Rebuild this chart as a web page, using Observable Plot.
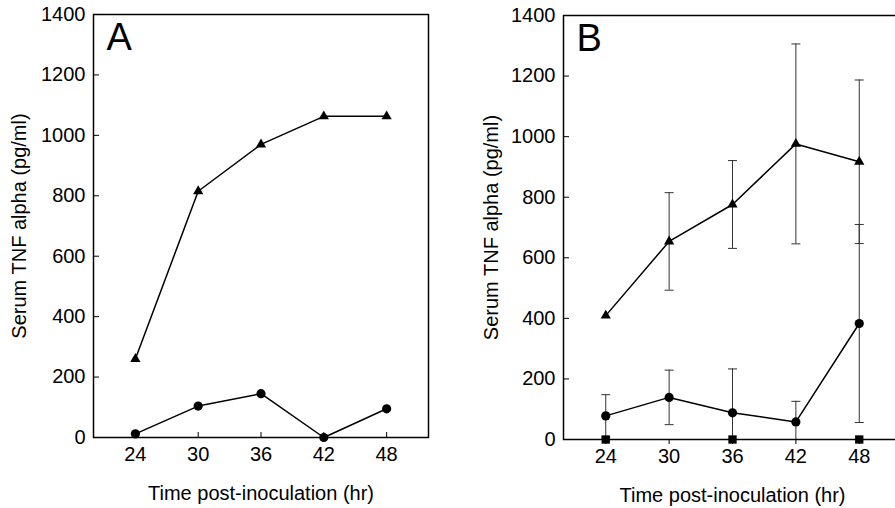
<!DOCTYPE html>
<html>
<head>
<meta charset="utf-8">
<script src="https://cdn.jsdelivr.net/npm/d3@7"></script>
<script src="https://cdn.jsdelivr.net/npm/@observablehq/plot@0.6"></script>
<style>
  html, body { margin: 0; padding: 0; background: #fff; overflow: hidden; }
  #wrap { position: relative; width: 895px; height: 508px; overflow: hidden; background: #fff; }
  #panelA { position: absolute; left: 0; top: 0; width: 450px; height: 508px; }
  #panelB { position: absolute; left: 450px; top: 0; width: 470px; height: 508px; }
  #wrap svg { max-width: none !important; }
</style>
</head>
<body>
<div id="wrap"><div id="panelA"></div><div id="panelB"></div></div>
<script>
// ---- data ----
const hours = [24, 30, 36, 42, 48];
const yTicks = [0, 200, 400, 600, 800, 1000, 1200, 1400];

// Panel A
const aTriangle = [260, 815, 970, 1063, 1063];
const aCircle = [12, 104, 145, 0, 95];

// Panel B (means and +/- error)
const bTriangle = [409, 654, 776, 976, 917];
const bTriangleErr = [null, 161, 145, 330, 270];
const bCircle = [78, 139, 88, 58, 383];
const bCircleErr = [70, 90, 145, 68, 327];
const bSquareHours = [24, 36, 48];
const bSquare = [0, 0, 0];

const xLabel = "Time post-inoculation (hr)";
const yLabel = "Serum TNF alpha (pg/ml)";

// ---- helpers ----
const toRows = (xs, ys, errs) => xs.map((x, i) => ({x, y: ys[i], e: errs ? errs[i] : null}));
const capSymbol = {draw(ctx) { ctx.moveTo(-4.5, 0); ctx.lineTo(4.5, 0); }};

function panel({letter, series, errSeries, squares, xTickSize, marginLeft, marginRight, marginTop, marginBottom, width, labelDx}) {
  const marks = [];
  // error bars
  for (const rows of errSeries) {
    const valid = rows.filter(d => d.e != null);
    marks.push(Plot.ruleX(valid, {x: "x", y1: d => d.y - d.e, y2: d => d.y + d.e, stroke: "#333", strokeWidth: 1, clip: true}));
    marks.push(Plot.dot(valid, {x: "x", y: d => d.y + d.e, symbol: capSymbol, stroke: "#333", strokeWidth: 1, r: 4.5, clip: true}));
    marks.push(Plot.dot(valid, {x: "x", y: d => d.y - d.e, symbol: capSymbol, stroke: "#333", strokeWidth: 1, r: 4.5, clip: true}));
  }
  marks.push(Plot.frame({stroke: "#000", strokeWidth: 1.5}));
  // axes
  marks.push(Plot.axisY({ticks: yTicks, tickSize: -6, text: null, label: null, strokeWidth: 1}));
  marks.push(Plot.axisY({ticks: yTicks, tickSize: 0, tickPadding: 8, label: null, fontSize: 20, tickFormat: d => String(d)}));
  marks.push(Plot.axisX({ticks: hours, tickSize: xTickSize, text: null, label: null}));
  marks.push(Plot.axisX({ticks: hours, tickSize: 0, tickPadding: 9, label: null, fontSize: 20, tickFormat: d => String(d)}));
  // lines + markers
  for (const s of series) {
    marks.push(Plot.line(s.rows, {x: "x", y: "y", stroke: "#000", strokeWidth: 1.5}));
    marks.push(Plot.dot(s.rows, {x: "x", y: "y", symbol: s.symbol, fill: "#000", stroke: "none", r: s.r}));
  }
  if (squares) marks.push(Plot.dot(squares, {x: "x", y: "y", symbol: "square", fill: "#000", r: 4.7}));
  // labels
  marks.push(Plot.text([xLabel], {frameAnchor: "bottom", dy: 56, lineAnchor: "middle", textAnchor: "middle", fontSize: 20, fill: "#000"}));
  marks.push(Plot.text([yLabel], {frameAnchor: "left", dx: -labelDx, rotate: -90, lineAnchor: "middle", textAnchor: "middle", fontSize: 20, fill: "#000"}));
  marks.push(Plot.text([letter], {frameAnchor: "top-left", dx: 13, dy: 9, lineAnchor: "top", textAnchor: "start", fontSize: 38, fill: "#000"}));

  return Plot.plot({
    width, height: 508,
    marginLeft, marginRight, marginTop, marginBottom,
    x: {domain: [20, 52], axis: null},
    y: {domain: [0, 1400], axis: null},
    style: {fontFamily: "'Liberation Sans', Arial, sans-serif", background: "white", color: "#000", overflow: "visible", maxWidth: "none"},
    marks
  });
}

const aTri = toRows(hours, aTriangle);
const aCir = toRows(hours, aCircle);
document.getElementById("panelA").append(panel({
  letter: "A",
  series: [{rows: aTri, symbol: "triangle", r: 3.8}, {rows: aCir, symbol: "circle", r: 4.6}],
  errSeries: [],
  squares: null,
  xTickSize: -5,
  width: 450, marginLeft: 93, marginRight: 22, marginTop: 14, marginBottom: 71,
  labelDx: 74
}));

const bTri = toRows(hours, bTriangle, bTriangleErr);
const bCir = toRows(hours, bCircle, bCircleErr);
const bSq = toRows(bSquareHours, bSquare);
document.getElementById("panelB").append(panel({
  letter: "B",
  series: [{rows: bTri, symbol: "triangle", r: 3.8}, {rows: bCir, symbol: "circle", r: 4.6}],
  errSeries: [bTri, bCir],
  squares: bSq,
  xTickSize: 5,
  width: 470, marginLeft: 113, marginRight: 19, marginTop: 15, marginBottom: 69,
  labelDx: 72
}));
</script>
</body>
</html>
